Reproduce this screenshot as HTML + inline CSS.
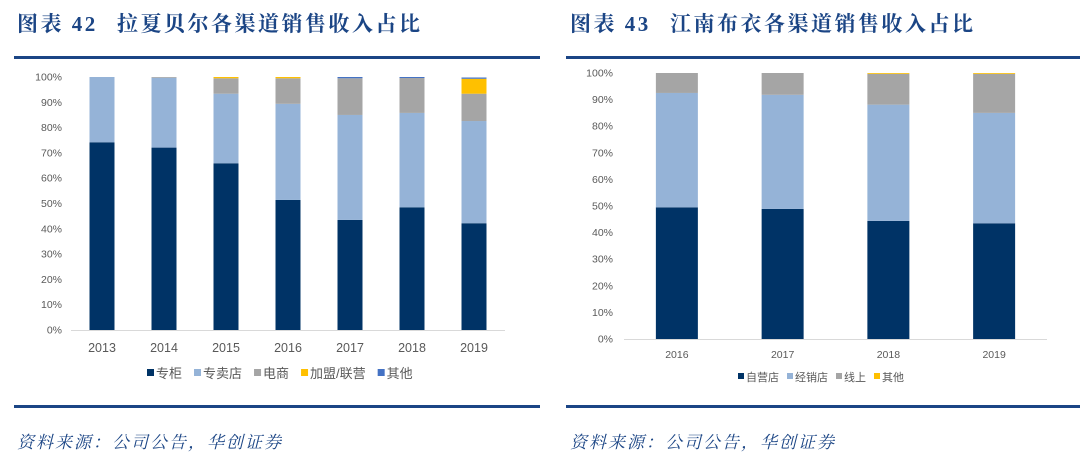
<!DOCTYPE html>
<html><head><meta charset="utf-8">
<style>
html,body{margin:0;padding:0;background:#fff;}
svg{display:block;}
.title{font-family:"Liberation Serif","Noto Serif CJK SC",serif;font-weight:bold;font-size:21px;fill:#1b4585;letter-spacing:2.5px;}
.src{font-family:"Liberation Serif","Noto Serif CJK SC",serif;font-style:italic;font-size:17px;fill:#1b4585;letter-spacing:2px;}
.tick{font-family:"Liberation Sans","Noto Sans CJK SC",sans-serif;font-size:10.5px;fill:#595959;}
.cat{font-family:"Liberation Sans","Noto Sans CJK SC",sans-serif;font-size:12.5px;fill:#595959;}
.cat2{font-family:"Liberation Sans","Noto Sans CJK SC",sans-serif;font-size:10.5px;fill:#595959;}
.leg{font-family:"Liberation Sans","Noto Sans CJK SC",sans-serif;font-size:13px;fill:#595959;}
.leg2{font-family:"Liberation Sans","Noto Sans CJK SC",sans-serif;font-size:11px;fill:#595959;}
</style></head>
<body>
<svg id="page" width="1080" height="456" xmlns="http://www.w3.org/2000/svg">
<text class="title" x="17" y="31">图表 42</text>
<text class="title" x="117" y="31">拉夏贝尔各渠道销售收入占比</text>
<text class="title" x="570" y="31">图表 43</text>
<text class="title" x="670" y="31">江南布衣各渠道销售收入占比</text>
<rect x="14" y="56" width="526" height="3" fill="#1b4585"/>
<rect x="566" y="56" width="514" height="3" fill="#1b4585"/>
<rect x="14" y="405" width="526" height="3" fill="#1b4585"/>
<rect x="566" y="405" width="514" height="3" fill="#1b4585"/>
<text class="src" x="17" y="448">资料来源：公司公告，华创证券</text>
<text class="src" x="570" y="448">资料来源：公司公告，华创证券</text>
<g id="left"></g>
<g id="right"></g>
</svg>
<script>
// Left chart data (拉夏贝尔)
const leftYears = ["2013","2014","2015","2016","2017","2018","2019"];
const leftSeriesNames = ["专柜","专卖店","电商","加盟/联营","其他"];
const leftCounter = [74.2,72.1,65.9,51.4,43.5,48.5,42.2];
const leftStore = [25.8,27.6,27.5,38.0,41.5,37.3,40.4];
const leftOnline = [0,0.3,6.1,10.1,14.5,13.8,10.8];
const leftFranchise = [0,0,0.5,0.5,0,0,5.9];
const leftOther = [0,0,0,0,0.5,0.4,0.5];
const leftTicks = ["0%","10%","20%","30%","40%","50%","60%","70%","80%","90%","100%"];
// Right chart data (江南布衣)
const rightYears = ["2016","2017","2018","2019"];
const rightSeriesNames = ["自营店","经销店","线上","其他"];
const rightSelf = [49.5,48.9,44.4,43.5];
const rightDealer = [43.0,42.9,43.7,41.5];
const rightOnline = [7.5,8.2,11.6,14.7];
const rightOther = [0,0,0.3,0.3];
const rightTicks = ["0%","10%","20%","30%","40%","50%","60%","70%","80%","90%","100%"];

const NS="http://www.w3.org/2000/svg";
function mk(tag,attrs,parent){const e=document.createElementNS(NS,tag);for(const k in attrs)e.setAttribute(k,attrs[k]);parent.appendChild(e);return e;}

function drawChart(g,cfg){
  const yS=v=>cfg.y0-(v/100)*(cfg.y0-cfg.y100);
  const band=(cfg.x1-cfg.x0)/cfg.cats.length;
  const xC=i=>cfg.x0+band*(i+0.5);
  cfg.ticks.forEach((t,i)=>{
    const tx=mk('text',{x:cfg.tickX,y:yS(i*10)+3.5,'text-anchor':'end','class':'tick'},g);
    tx.textContent=t;
    
    
  });
  cfg.cats.forEach((c,i)=>{
    let cum=0;
    cfg.series.forEach((s,si)=>{
      const v=s[i];
      if(v>0){
        const r=mk('rect',{x:xC(i)-cfg.bw/2,y:yS(cum+v),width:cfg.bw,height:yS(cum)-yS(cum+v),fill:cfg.colors[si]},g);
        
        
      }
      cum+=v;
    });
    const t=mk('text',{x:xC(i),y:cfg.catY,'text-anchor':'middle','class':cfg.catClass},g);
    t.textContent=c;
    
    
  });
  const ax=mk('line',{x1:cfg.x0,x2:cfg.x1,y1:cfg.y0+0.5,y2:cfg.y0+0.5,stroke:'#d9d9d9','stroke-width':1},g);
  
  
  let lx=cfg.legX;
  cfg.names.forEach((n,si)=>{
    const sw=mk('rect',{x:lx,y:cfg.legY-4,width:cfg.sw,height:cfg.sw,fill:cfg.colors[si]},g);
    
    
    const t=mk('text',{x:lx+cfg.sw+2,y:cfg.legY+cfg.sw-2,'class':cfg.legClass},g);
    t.textContent=n;
    
    
    lx+=cfg.sw+2+t.getComputedTextLength()+cfg.legGap;
  });
}
drawChart(document.getElementById('left'),{
  cats:leftYears,names:leftSeriesNames,
  series:[leftCounter,leftStore,leftOnline,leftFranchise,leftOther],
  colors:["#003366","#95b3d7","#a5a5a5","#ffc000","#4472c4"],
  ticks:leftTicks,x0:71,x1:505,y0:330,y100:77,bw:25,tickX:62,
  catY:352,catClass:'cat',legX:147,legY:373,legClass:'leg',legGap:12,sw:7
});
drawChart(document.getElementById('right'),{
  cats:rightYears,names:rightSeriesNames,
  series:[rightSelf,rightDealer,rightOnline,rightOther],
  colors:["#003366","#95b3d7","#a5a5a5","#ffc000"],
  ticks:rightTicks,x0:624,x1:1047,y0:339,y100:73,bw:42,tickX:613,
  catY:358,catClass:'cat2',legX:738,legY:377,legClass:'leg2',legGap:8,sw:6
});
</script>
</body></html>
